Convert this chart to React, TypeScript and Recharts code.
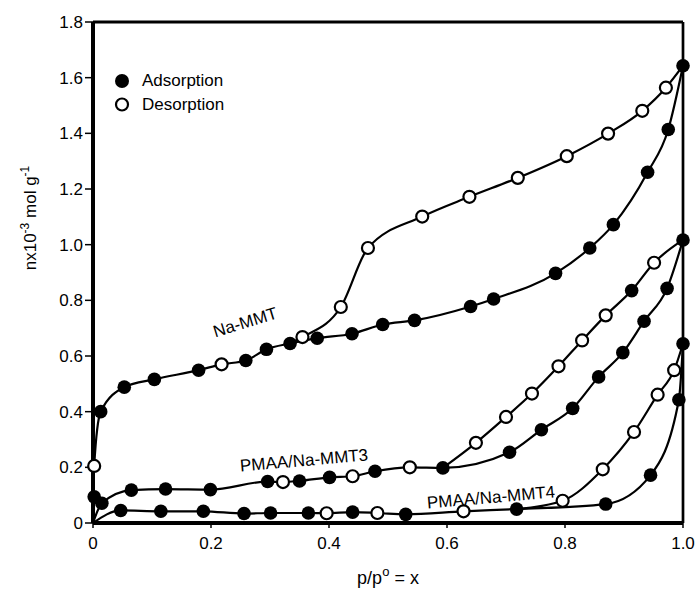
import React from 'react';
import { ComposedChart, Line, Scatter, XAxis, YAxis, ReferenceLine } from 'recharts';

type P = [number, number];

// ---- Data (x = p/p°, y = n x10^-3 mol g^-1) ----
const ORIGIN: P = [0, 0];

// Na-MMT
const naMmtAdsorption: P[] = [
  [0.013, 0.4], [0.053, 0.488], [0.104, 0.516], [0.179, 0.549], [0.259, 0.584],
  [0.294, 0.624], [0.334, 0.645], [0.38, 0.664], [0.439, 0.68], [0.491, 0.713],
  [0.545, 0.728], [0.64, 0.778], [0.679, 0.805], [0.784, 0.897], [0.842, 0.988],
  [0.882, 1.072], [0.94, 1.26], [0.975, 1.414], [1.0, 1.643],
];
const naMmtDesorption: P[] = [
  [0.002, 0.205], [0.218, 0.57], [0.355, 0.668], [0.42, 0.776], [0.466, 0.988],
  [0.558, 1.101], [0.638, 1.172], [0.72, 1.24], [0.803, 1.318], [0.873, 1.399],
  [0.931, 1.481], [0.971, 1.564],
];
const naMmtJunction = 0.334;

// PMAA/Na-MMT3
const mmt3Initial: P[] = [[0.002, 0.094]];
const mmt3Adsorption: P[] = [
  [0.015, 0.071], [0.065, 0.118], [0.123, 0.122], [0.199, 0.12], [0.296, 0.149],
  [0.35, 0.151], [0.401, 0.164], [0.478, 0.186], [0.593, 0.198], [0.706, 0.254],
  [0.76, 0.335], [0.813, 0.412], [0.857, 0.525], [0.898, 0.612], [0.934, 0.725],
  [0.973, 0.843], [1.0, 1.017],
];
const mmt3Desorption: P[] = [
  [0.322, 0.147], [0.44, 0.168], [0.537, 0.2], [0.649, 0.288], [0.7, 0.381],
  [0.744, 0.465], [0.789, 0.563], [0.829, 0.656], [0.869, 0.746], [0.951, 0.935],
];
const mmt3DesorptionFilled: P[] = [[0.913, 0.835]];
const mmt3Junction = 0.593;

// PMAA/Na-MMT4
const mmt4Adsorption: P[] = [
  [0.047, 0.045], [0.115, 0.042], [0.187, 0.042], [0.256, 0.034], [0.301, 0.036],
  [0.365, 0.036], [0.44, 0.039], [0.53, 0.031], [0.718, 0.05], [0.869, 0.068],
  [0.945, 0.172], [0.993, 0.443], [1.0, 0.644],
];
const mmt4Desorption: P[] = [
  [0.396, 0.035], [0.482, 0.036], [0.628, 0.042], [0.796, 0.08], [0.864, 0.193],
  [0.917, 0.327], [0.957, 0.461], [0.985, 0.549],
];
const mmt4Junction = 0.718;

const xTicks = [0, 0.2, 0.4, 0.6, 0.8, 1.0];
const yTicks = [0, 0.2, 0.4, 0.6, 0.8, 1.0, 1.2, 1.4, 1.6, 1.8];

// ---- helpers ----
const toPts = (a: P[]) => a.map(([x, y]) => ({ x, y }));
const byX = (a: P[]) => [...a].sort((p, q) => p[0] - q[0]);

const adsCurve = (ads: P[], des: P[], jx: number) =>
  toPts(byX([ORIGIN, ...ads, ...des.filter((p) => p[0] < jx)]));
const desCurve = (ads: P[], des: P[], extra: P[], jx: number) =>
  toPts(
    byX([
      ...ads.filter((p) => p[0] === jx || p[0] === 1),
      ...des.filter((p) => p[0] > jx),
      ...extra,
    ])
  );

const curves = [
  adsCurve(naMmtAdsorption, naMmtDesorption, naMmtJunction),
  desCurve(naMmtAdsorption, naMmtDesorption, [], naMmtJunction),
  adsCurve(mmt3Adsorption, mmt3Desorption, mmt3Junction),
  desCurve(mmt3Adsorption, mmt3Desorption, mmt3DesorptionFilled, mmt3Junction),
  adsCurve(mmt4Adsorption, mmt4Desorption, mmt4Junction),
  desCurve(mmt4Adsorption, mmt4Desorption, [], mmt4Junction),
];

const filledPts = toPts([
  ...naMmtAdsorption,
  ...mmt3Initial,
  ...mmt3Adsorption,
  ...mmt3DesorptionFilled,
  ...mmt4Adsorption,
]);
const openPts = toPts([...naMmtDesorption, ...mmt3Desorption, ...mmt4Desorption]);

const FONT = '"Liberation Sans", Arial, Helvetica, sans-serif';
const fmt = (v: number) => (v === 0 ? '0' : v.toFixed(1));

const FilledDot = (p: any) => <circle cx={p.cx} cy={p.cy} r={6.8} fill="#000" />;
const OpenDot = (p: any) => (
  <circle cx={p.cx} cy={p.cy} r={6} fill="#fff" stroke="#000" strokeWidth={2.2} />
);

export default function App() {
  return (
    <div style={{ position: 'absolute', left: 0, top: 0, width: 699, height: 592, background: '#fff' }}>
      <ComposedChart
        width={699}
        height={592}
        margin={{ top: 22, right: 16, bottom: 29, left: 33 }}
      >
        <XAxis
          type="number"
          dataKey="x"
          domain={[0, 1]}
          ticks={xTicks}
          interval={0}
          tickFormatter={fmt}
          axisLine={{ stroke: '#000', strokeWidth: 4 }}
          tickLine={{ stroke: '#000', strokeWidth: 1.5 }}
          tickSize={5}
          tickMargin={9}
          height={40}
          tick={{ fill: '#000', fontSize: 17, fontFamily: FONT }}
        />
        <YAxis
          type="number"
          domain={[0, 1.8]}
          ticks={yTicks}
          interval={0}
          tickFormatter={fmt}
          axisLine={{ stroke: '#000', strokeWidth: 4 }}
          tickLine={{ stroke: '#000', strokeWidth: 1.5 }}
          tickSize={8}
          tickMargin={2}
          width={60}
          tick={{ fill: '#000', fontSize: 17, fontFamily: FONT }}
        />
        <ReferenceLine y={1.8} stroke="#000" strokeWidth={3} />
        <ReferenceLine x={1} stroke="#000" strokeWidth={2.7} />
        {curves.map((c, i) => (
          <Line
            key={i}
            data={c}
            dataKey="y"
            type="monotone"
            stroke="#000"
            strokeWidth={2.2}
            dot={false}
            activeDot={false}
            isAnimationActive={false}
          />
        ))}
        <Scatter data={filledPts} dataKey="y" shape={FilledDot} isAnimationActive={false} />
        <Scatter data={openPts} dataKey="y" shape={OpenDot} isAnimationActive={false} />
      </ComposedChart>
      <svg
        width={699}
        height={592}
        style={{ position: 'absolute', left: 0, top: 0, pointerEvents: 'none' }}
        fontFamily={FONT}
        fill="#000"
      >
        <text transform="translate(36,218) rotate(-90)" textAnchor="middle" fontSize={17}>
          nx10<tspan dy={-7} fontSize={12}>-3</tspan>
          <tspan dy={7}> mol g</tspan>
          <tspan dy={-7} fontSize={12}>-1</tspan>
        </text>
        <text x={388} y={584} textAnchor="middle" fontSize={18}>
          p/p<tspan dy={-8} fontSize={13}>o</tspan>
          <tspan dy={8}> = x</tspan>
        </text>
        <circle cx={122} cy={81} r={7} fill="#000" />
        <text x={142} y={86} fontSize={17}>Adsorption</text>
        <circle cx={122} cy={104.5} r={6} fill="#fff" stroke="#000" strokeWidth={2.2} />
        <text x={142} y={110} fontSize={17}>Desorption</text>
        <text transform="translate(245,322) rotate(-17)" textAnchor="middle" y={6} fontSize={17}>
          Na-MMT
        </text>
        <text transform="translate(304,460) rotate(-5)" textAnchor="middle" y={6} fontSize={17}>
          PMAA/Na-MMT3
        </text>
        <text transform="translate(491,497) rotate(-5)" textAnchor="middle" y={6} fontSize={17}>
          PMAA/Na-MMT4
        </text>
      </svg>
    </div>
  );
}
